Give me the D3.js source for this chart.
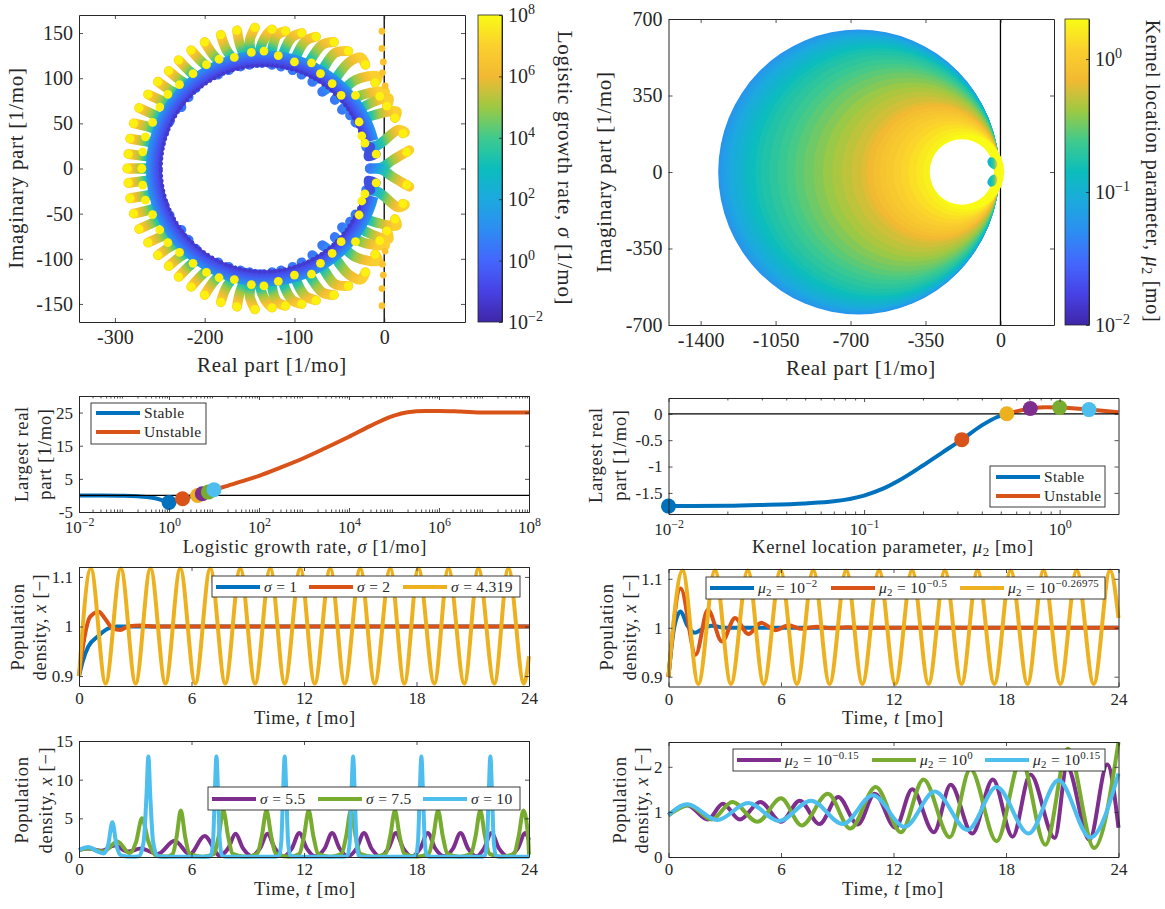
<!DOCTYPE html>
<html>
<head>
<meta charset="utf-8">
<script src="https://cdn.jsdelivr.net/npm/d3@7"></script>
<style>
html, body { margin: 0; padding: 0; background: #fff; }
svg { display: block; }
text { font-family: "Liberation Serif", serif; fill: #262626; }
</style>
</head>
<body>
<svg id="chart" width="1165" height="909"></svg>
<script>
'use strict';

//colorbar colours, bottom to top
var parulaColors = ['#3e26a8', '#4741e5', '#4466fd', '#2d8cf3', '#1ca9df', '#0bbdbc', '#3fca8e', '#9dc943', '#f2b932', '#fbd02e', '#f9fb15'];
var lineColors = ['#0072bd', '#d95319', '#edb120', '#7e2f8e', '#77ac30', '#4dbeee'];

//root locus tails, upper half only, ring to tip: [re, im]
var sigmaTails = [
    [[-253, 0], [-270, 0], [-286, 0]],
    [[-253, 12], [-270, 14], [-285, 16]],
    [[-250, 27], [-266, 30], [-283, 33]],
    [[-245, 40], [-262, 46], [-279, 50]],
    [[-239, 52], [-255, 59], [-273, 67]],
    [[-226, 68], [-245, 74], [-263, 82]],
    [[-218, 79], [-237, 86], [-252, 96]],
    [[-210, 89], [-226, 97], [-240, 108]],
    [[-204, 98], [-216, 107], [-229, 120]],
    [[-185, 104], [-202, 117], [-215, 131]],
    [[-173, 109], [-189, 124], [-200, 140]],
    [[-160, 113], [-175, 130], [-182, 148]],
    [[-150, 115], [-160, 135], [-164, 153]],
    [[-142, 117], [-150, 139], [-144, 156]],
    [[-136, 117], [-138, 131], [-131, 148], [-125, 154]],
    [[-125, 115], [-125, 131], [-119, 148], [-110, 152]],
    [[-115, 113], [-111, 131], [-102, 146], [-92, 150]],
    [[-102, 109], [-98, 124], [-88, 141], [-76, 146]],
    [[-92, 104], [-84, 117], [-69, 137], [-56, 140]],
    [[-80, 96], [-71, 106], [-55, 128], [-40, 130]],
    [[-69, 85], [-61, 91], [-40, 117], [-26, 123], [-21, 115]],
    [[-55, 76], [-32, 98], [-7, 102], [-10, 95]],
    [[-47, 65], [-26, 81], [1, 85], [-5, 80]],
    [[-38, 59], [-16, 72], [5, 78], [3, 69]],
    [[-32, 51], [-12, 59], [14, 63], [12, 56]],
    [[-20, 24], [-7, 26], [16, 43], [23, 40], [21, 39]],
    [[-16, 0], [-3, 1], [9, 9], [28, 20], [25, 18]]
];
var sigmaStub = [[-15, 24], [-18, 13], [-9, 16]];
var tailStopOffsets = [0, 0.22, 0.42, 0.6, 0.82, 1];
var tailStopLogSigma = [0.5, 2, 3.5, 5, 6.2, 7];

//yellow dots part way along the tails
var sigmaInnerDots = [[-270, 0], [-269, 18.5], [-266, 35], [-258, 51], [-250, 68], [-241, 82], [-228, 93], [-213, 105],
    [-198, 115], [-184, 121], [-167, 123], [-148, 128.5], [-134, 130], [-118, 125], [-100, 118], [-81, 117],
    [-71, 105], [-58, 94], [-48, 81], [-32, 81], [-28, 51.5], [-25, 36], [-21.5, 28], [-9, 16]];
//orange dots next to the imaginary axis
var sigmaAxisDots = [[-2.5, 152], [-2.5, 133], [-1, 118], [-2, 106], [1, 91.5]];
var ringCenterRe = -134;

//nested eigenvalue circles, outer to inner
var kernelLogMu = [-1.25, -1.22, -1.19, -1.17, -1.14, -1.11, -1.08, -1.06, -1.03, -1.00, -0.95, -0.90, -0.85, -0.80, -0.75, -0.70, -0.65, -0.60,
    -0.55, -0.50, -0.45, -0.40, -0.35, -0.30, -0.25, -0.20, -0.15, -0.10, -0.05, 0, 0.05, 0.10, 0.15, 0.20, 0.25, 0.30];
var kernelLeft = [-1318, -1312, -1305, -1297, -1288, -1278, -1268, -1257, -1246, -1234, -1215, -1193, -1170, -1146, -1118, -1080, -1040, -1000,
    -960, -918, -873, -829, -784, -740, -695, -650, -622, -594, -565, -535, -500, -465, -430, -395, -362, -331];
var kernelRight = [-7, -7, -7, -7, -6, -6, -6, -6, -5, -5, -5, -5, -4, -4, -4, -4, -3, -3,
    -3, -2, -2, -2, -1, -1, 0, 0, 1, 1, 2, 2, 3, 5, 7, 10, 13, 17];
var kernelHole = {left: -330, right: -30, top: 150};
var kernelBump = [[-28, 12], [-52, 26], [-61, 49], [-47, 67], [-28, 62], [-14, 35]];

//largest real part against sigma
var sigmaStable = [0.01, 0.03, 0.1, 0.2, 0.4, 0.7, 1, 1.4, 2, 3, 4.319];
var sigmaStableReal = [0, -0.02, -0.1, -0.25, -0.6, -1.4, -2.1, -1.7, -1, -0.3, 0];
var sigmaUnstable = [4.319, 5.5, 7.5, 10, 20, 50, 100, 300, 1e3, 3e3, 1e4, 3e4, 1e5, 2e5, 5e5, 1e6, 3e6, 1e7, 3e7, 1e8];
var sigmaUnstableReal = [0, 0.5, 1, 1.7, 2.9, 4.6, 5.9, 8.4, 11.3, 14.3, 17.7, 21, 24.1, 25.1, 25.5, 25.5, 25.3, 25, 25, 25];
var sigmaMarkers = [1, 2, 4.319, 5.5, 7.5, 10];
var sigmaMarkerReal = [-2.1, -1, 0, 0.5, 1, 1.7];

//largest real part against mu2
var muStable = [0.01, 0.02, 0.03, 0.05, 0.07, 0.1, 0.125, 0.15, 0.2, 0.25, 0.316, 0.4, 0.48, 0.537];
var muStableReal = [-1.75, -1.745, -1.73, -1.7, -1.66, -1.55, -1.42, -1.27, -0.98, -0.74, -0.49, -0.22, -0.06, 0];
var muUnstable = [0.537, 0.708, 0.85, 1, 1.413, 2];
var muUnstableReal = [0, 0.1, 0.125, 0.12, 0.08, 0.03];
var muMarkers = [0.01, 0.316, 0.537, 0.708, 1, 1.413];
var muMarkerReal = [-1.75, -0.49, 0, 0.1, 0.12, 0.08];

//population density, left column, sigma = 1, 2, 4.319
var sigma1Time = [0, 0.2, 0.5, 1, 1.5, 2, 3, 24];
var sigma1Density = [0.9, 0.93, 0.96, 0.98, 0.995, 1, 1, 1];
var sigma2Time = [0, 0.3, 0.6, 1.05, 1.4, 1.8, 2.2, 2.6, 3.3, 4, 24];
var sigma2Density = [0.9, 0.98, 1.02, 1.03, 1.015, 0.996, 0.993, 1, 1.002, 1, 1];
var sigma432Time = [0, 0.63, 1.42, 2.23, 3.02, 3.81, 4.61, 5.4, 6.2, 7, 7.8, 8.6, 9.39, 10.2, 10.97, 11.8, 12.57, 13.4, 14.17, 15,
    15.77, 16.6, 17.35, 18.1, 18.95, 19.7, 20.55, 21.3, 22.15, 22.9, 23.73, 24];
var sigma432Density = [0.9, 1.117, 0.885, 1.117, 0.885, 1.117, 0.885, 1.117, 0.885, 1.117, 0.885, 1.117, 0.885, 1.117, 0.885, 1.117, 0.885, 1.117, 0.885, 1.117,
    0.885, 1.117, 0.885, 1.117, 0.885, 1.117, 0.885, 1.117, 0.885, 1.117, 0.885, 0.94];

//population density, right column, mu2 = 10^-2, 10^-0.5, 10^-0.26975
var mu200Time = [0, 0.3, 0.65, 1, 1.4, 1.9, 2.3, 3, 4, 24];
var mu200Density = [0.9, 1, 1.033, 1.005, 0.99, 1, 1.004, 1, 1, 1];
var mu050Time = [0, 0.65, 1.45, 2.1, 2.85, 3.55, 4.25, 4.95, 5.7, 6.4, 7.1, 7.9, 8.7, 9.5, 10.2, 24];
var mu050Density = [0.9, 1.08, 0.945, 1.037, 0.972, 1.02, 0.987, 1.01, 0.995, 1.005, 0.998, 1.002, 0.999, 1.001, 1, 1];
var mu027Time = [0, 0.75, 1.59, 2.48, 3.33, 4.23, 5.08, 5.97, 6.85, 7.72, 8.59, 9.48, 10.34, 11.23, 12.1, 12.99, 13.87, 14.74, 15.63, 16.48,
    17.38, 18.25, 19.15, 20, 20.9, 21.77, 22.68, 23.55, 24];
var mu027Density = [0.9, 1.117, 0.885, 1.117, 0.885, 1.117, 0.885, 1.117, 0.885, 1.117, 0.885, 1.117, 0.885, 1.117, 0.885, 1.117, 0.885, 1.117, 0.885, 1.117,
    0.885, 1.117, 0.885, 1.117, 0.885, 1.117, 0.885, 1.117, 1.02];

//population density, left column, sigma = 5.5, 7.5, 10
var sigma55Time = [0, 0.5, 1.2, 1.9, 2.6, 3.3, 4.2, 5.1, 5.9, 6.7, 7.5, 7.95, 8.35, 8.75, 9.2, 9.65, 10.05, 10.45, 10.9, 11.35, 11.75, 12.15, 12.6, 13.1, 13.5, 13.9,
    14.35, 14.8, 15.2, 15.6, 16.05, 16.5, 16.9, 17.3, 17.75, 18.2, 18.6, 19, 19.5, 19.95, 20.35, 20.75, 21.2, 21.6, 22, 22.4, 22.9, 23.4, 23.8, 24];
var sigma55Density = [0.9, 1.1, 0.8, 1.5, 0.7, 1.1, 0.4, 2.1, 0.35, 2.7, 0.2, 1.1, 3, 1.1, 0.12, 1.1, 3, 1.1, 0.1, 1.1, 3.1, 1.1, 0.1, 1.1, 3.1, 1.1,
    0.1, 1.1, 3.1, 1.1, 0.1, 1.1, 3.1, 1.1, 0.1, 1.1, 3.1, 1.1, 0.1, 1.1, 3.1, 1.1, 0.1, 1.1, 3.1, 1.1, 0.1, 1.1, 3.1, 2.2];
var sigma75Time = [0, 0.5, 1.3, 2.05, 2.7, 3.05, 3.36, 3.7, 4.1, 4.7, 5, 5.2, 5.43, 5.67, 5.9, 6.6, 7.2, 7.45, 7.7, 7.95, 8.2, 8.9, 9.5, 9.75, 10, 10.25, 10.5, 11.2,
    11.75, 12, 12.25, 12.5, 12.75, 13.4, 14, 14.25, 14.5, 14.75, 15, 15.7, 16.35, 16.6, 16.85, 17.1, 17.35, 18, 18.65, 18.9, 19.15, 19.4, 19.65, 20.3,
    20.9, 21.15, 21.4, 21.65, 21.9, 22.5, 23.2, 23.45, 23.7, 23.95, 24];
var sigma75Density = [0.9, 1.1, 0.7, 2, 0.5, 2, 5, 2, 0.2, 0.05, 0.4, 2.5, 6, 2.5, 0.4, 0.03, 0.4, 2.7, 6, 2.7, 0.4, 0.03, 0.4, 2.7, 6, 2.7, 0.4, 0.03,
    0.4, 2.7, 6, 2.7, 0.4, 0.03, 0.4, 2.7, 6, 2.7, 0.4, 0.03, 0.4, 2.7, 6, 2.7, 0.4, 0.03, 0.4, 2.7, 6, 2.7, 0.4, 0.03,
    0.4, 2.7, 6, 2.7, 0.4, 0.03, 0.4, 2.7, 6, 2.7, 0.3];
var sigma10Time = [0, 0.5, 1, 1.3, 1.55, 1.78, 2, 2.25, 2.8, 3.2, 3.45, 3.6, 3.7, 3.8, 3.95, 4.2, 4.8,
    6.8, 7.03, 7.15, 7.24, 7.33, 7.42, 7.51, 7.63, 7.9,
    10.4, 10.67, 10.79, 10.88, 10.97, 11.06, 11.15, 11.27, 11.5,
    14.05, 14.32, 14.44, 14.53, 14.62, 14.71, 14.8, 14.92, 15.2,
    17.7, 17.96, 18.08, 18.17, 18.26, 18.35, 18.44, 18.56, 18.8,
    21.4, 21.64, 21.76, 21.85, 21.94, 22.03, 22.12, 22.24, 22.5, 24];
var sigma10Density = [0.9, 1.3, 0.7, 0.45, 1.5, 4.5, 1.5, 0.2, 0.03, 0.1, 2, 8, 13, 8, 2, 0.1, 0.02,
    0.02, 0.15, 2, 8, 13, 8, 2, 0.15, 0.02,
    0.02, 0.15, 2, 8, 13, 8, 2, 0.15, 0.02,
    0.02, 0.15, 2, 8, 13, 8, 2, 0.15, 0.02,
    0.02, 0.15, 2, 8, 13, 8, 2, 0.15, 0.02,
    0.02, 0.15, 2, 8, 13, 8, 2, 0.15, 0.02, 0.02];

//population density, right column, mu2 = 10^-0.15, 10^0, 10^0.15
var mu015Time = [0, 1, 2.1, 2.9, 3.8, 4.9, 6, 7, 8.05, 9.05, 10.1, 11, 12.1, 13, 14.15, 15.05, 16.2, 17.3, 18.35, 19.3, 20.6, 21.25, 22.45, 23.4, 24];
var mu015Density = [0.93, 1.15, 0.83, 1.18, 0.83, 1.22, 0.78, 1.25, 0.73, 1.33, 0.72, 1.4, 0.65, 1.5, 0.55, 1.6, 0.52, 1.72, 0.45, 1.83, 0.42, 2, 0.38, 2.05, 0.65];
var mu100Time = [0, 1.1, 2.3, 3.4, 4.75, 6, 7.1, 8.5, 9.7, 11.05, 12.4, 13.6, 15, 16.1, 17.5, 18.8, 20.1, 21.3, 22.7, 24];
var mu100Density = [0.93, 1.15, 0.83, 1.22, 0.78, 1.3, 0.7, 1.4, 0.63, 1.55, 0.55, 1.72, 0.44, 1.95, 0.35, 2.15, 0.27, 2.4, 0.2, 2.55];
var mu141Time = [0, 1, 2.6, 4.25, 5.9, 7.6, 9.3, 10.9, 12.6, 14.2, 15.95, 17.5, 19.2, 20.8, 22.5, 24];
var mu141Density = [0.93, 1.17, 0.82, 1.2, 0.8, 1.25, 0.73, 1.37, 0.67, 1.45, 0.6, 1.55, 0.52, 1.7, 0.43, 1.85];

//tick labels and legend labels
var timeTicks = [0, 6, 12, 18, 24];
var sigmaLogTicks = [1e-2, 1, 1e2, 1e4, 1e6, 1e8];
var muLogTicks = [1e-2, 1e-1, 1];
var sigmaBarTicks = [1e-2, 1, 1e2, 1e4, 1e6, 1e8];
var stabilityLabels = ['Stable', 'Unstable'];
var legendSigmaA = [[['σ', 'i'], [' = 1']], [['σ', 'i'], [' = 2']], [['σ', 'i'], [' = 4.319']]];
var legendSigmaB = [[['σ', 'i'], [' = 5.5']], [['σ', 'i'], [' = 7.5']], [['σ', 'i'], [' = 10']]];
var legendMuA = [
    [['μ', 'i'], ['2', 'sub'], [' = 10'], ['−2', 'sup']],
    [['μ', 'i'], ['2', 'sub'], [' = 10'], ['−0.5', 'sup']],
    [['μ', 'i'], ['2', 'sub'], [' = 10'], ['−0.26975', 'sup']]
];
var legendMuB = [
    [['μ', 'i'], ['2', 'sub'], [' = 10'], ['−0.15', 'sup']],
    [['μ', 'i'], ['2', 'sub'], [' = 10'], ['0', 'sup']],
    [['μ', 'i'], ['2', 'sub'], [' = 10'], ['0.15', 'sup']]
];

var svg = d3.select('#chart');
var defs = svg.append('defs');
var parula = d3.scaleLinear()
    .domain(d3.range(parulaColors.length).map(function (i) { return i / (parulaColors.length - 1); }))
    .range(parulaColors)
    .interpolate(d3.interpolateRgb);
var inkColor = '#262626';
var lineWidth = 4;
var gradCount = 0;

//text with italic, super and subscript runs
function richText(sel, parts, size) {
    sel.attr('font-size', size);
    parts.forEach(function (part) {
        var span = sel.append('tspan').text(part[0]);
        if (part[1] === 'i') {
            span.attr('font-style', 'italic');
        } else if (part[1] === 'sup') {
            span.attr('font-size', size * 0.7).attr('baseline-shift', size * 0.42);
        } else if (part[1] === 'sub') {
            span.attr('font-size', size * 0.7).attr('font-style', 'normal').attr('baseline-shift', -size * 0.18);
        }
    });
    return sel;
}

function powerLabel(v) {
    var exponent = Math.round(Math.log10(v));
    return [['10'], [exponent < 0 ? '−' + (-exponent) : String(exponent), 'sup']];
}

function minorLogTicks(lo, hi) {
    var out = [];
    for (var e = Math.floor(Math.log10(lo)); e <= Math.ceil(Math.log10(hi)); e++) {
        for (var m = 2; m < 10; m++) {
            var v = m * Math.pow(10, e);
            if (v > lo && v < hi) { out.push(v); }
        }
    }
    return out;
}

function styleAxis(g) {
    g.selectAll('.domain').attr('stroke', inkColor).attr('stroke-width', 1);
    g.selectAll('.tick line').attr('stroke', inkColor).attr('stroke-width', 0.8);
    g.attr('font-family', null).attr('font-size', null);
}

//box with inward ticks on all four sides
function drawFrame(panel) {
    var x = panel.x, y = panel.y, fs = panel.fontSize;
    var xr = x.range(), yr = y.range();
    var g = svg.append('g');
    var bottom = d3.axisBottom(x).tickValues(panel.xTicks).tickSizeInner(-4).tickSizeOuter(0).tickPadding(panel.xPad).tickFormat(String);
    var top = d3.axisTop(x).tickValues(panel.xTicks).tickSizeInner(-4).tickSizeOuter(0).tickFormat('');
    var left = d3.axisLeft(y).tickValues(panel.yTicks).tickSizeInner(-4).tickSizeOuter(0).tickPadding(6).tickFormat(String);
    var right = d3.axisRight(y).tickValues(panel.yTicks).tickSizeInner(-4).tickSizeOuter(0).tickFormat('');

    var gb = g.append('g').attr('transform', 'translate(0,' + yr[0] + ')').call(bottom);
    var gt = g.append('g').attr('transform', 'translate(0,' + yr[1] + ')').call(top);
    var gl = g.append('g').attr('transform', 'translate(' + xr[0] + ',0)').call(left);
    var gr = g.append('g').attr('transform', 'translate(' + xr[1] + ',0)').call(right);

    if (panel.logX) {
        gb.selectAll('.tick text').each(function (d) {
            var t = d3.select(this);
            t.text('');
            richText(t, powerLabel(d), fs);
        });
        var minor = minorLogTicks(x.domain()[0], x.domain()[1]);
        g.append('g').attr('transform', 'translate(0,' + yr[0] + ')')
            .call(d3.axisBottom(x).tickValues(minor).tickSizeInner(-2.5).tickSizeOuter(0).tickFormat(''))
            .call(styleAxis);
        g.append('g').attr('transform', 'translate(0,' + yr[1] + ')')
            .call(d3.axisTop(x).tickValues(minor).tickSizeInner(-2.5).tickSizeOuter(0).tickFormat(''))
            .call(styleAxis);
    }
    [gb, gt, gl, gr].forEach(styleAxis);
    g.selectAll('.tick text').attr('font-size', fs).attr('fill', inkColor);
    return g;
}

function xLabel(cx, baseline, parts, size) {
    svg.append('text').attr('x', cx).attr('y', baseline).attr('text-anchor', 'middle')
        .attr('letter-spacing', 0.7)
        .call(richText, parts, size);
}

function rotatedLabel(x, cy, parts, size, angle) {
    svg.append('text').attr('text-anchor', 'middle')
        .attr('letter-spacing', 0.7)
        .attr('transform', 'translate(' + x + ',' + cy + ') rotate(' + angle + ')')
        .call(richText, parts, size);
}

function drawSeries(panel, xs, ys, color) {
    var line = d3.line()
        .x(function (d) { return panel.x(d[0]); })
        .y(function (d) { return panel.y(d[1]); })
        .curve(d3.curveMonotoneX);
    svg.append('path')
        .datum(d3.zip(xs, ys))
        .attr('d', line)
        .attr('fill', 'none')
        .attr('stroke', color)
        .attr('stroke-width', lineWidth)
        .attr('stroke-linejoin', 'round');
}

function drawMarkers(panel, xs, ys, colors) {
    svg.append('g').selectAll('circle').data(d3.zip(xs, ys)).enter().append('circle')
        .attr('cx', function (d) { return panel.x(d[0]); })
        .attr('cy', function (d) { return panel.y(d[1]); })
        .attr('r', 7.5)
        .attr('fill', function (d, i) { return colors[i]; });
}

function drawZeroLine(panel, horizontal) {
    var xr = panel.x.range(), yr = panel.y.range();
    svg.append('line')
        .attr('x1', horizontal ? xr[0] : panel.x(0))
        .attr('x2', horizontal ? xr[1] : panel.x(0))
        .attr('y1', horizontal ? panel.y(0) : yr[0])
        .attr('y2', horizontal ? panel.y(0) : yr[1])
        .attr('stroke', '#000')
        .attr('stroke-width', 1.3);
}

//legend: one row of entries, or stacked rows when rowY has several values
function drawLegend(opts) {
    var g = svg.append('g');
    g.append('rect')
        .attr('x', opts.x).attr('y', opts.y).attr('width', opts.w).attr('height', opts.h)
        .attr('fill', '#fff').attr('stroke', inkColor).attr('stroke-width', 0.9);
    opts.labels.forEach(function (label, i) {
        var rowY = opts.rowY[Math.min(i, opts.rowY.length - 1)];
        var lineX = opts.lineX[Math.min(i, opts.lineX.length - 1)];
        g.append('line')
            .attr('x1', lineX).attr('x2', lineX + opts.lineLen)
            .attr('y1', rowY).attr('y2', rowY)
            .attr('stroke', opts.colors[i]).attr('stroke-width', lineWidth);
        g.append('text')
            .attr('x', lineX + opts.lineLen + 4).attr('y', rowY + opts.fontSize * 0.33)
            .attr('letter-spacing', 0.3)
            .call(richText, typeof label === 'string' ? [[label]] : label, opts.fontSize);
    });
}

//colorbar with its own log axis
function drawColorbar(x0, x1, y0, y1, scale, ticks, fs) {
    var id = 'bar' + (gradCount++);
    var grad = defs.append('linearGradient').attr('id', id)
        .attr('x1', 0).attr('y1', 1).attr('x2', 0).attr('y2', 0);
    d3.range(0, 1.0001, 0.05).forEach(function (t) {
        grad.append('stop').attr('offset', t).attr('stop-color', parula(t));
    });
    svg.append('rect')
        .attr('x', x0).attr('y', y0).attr('width', x1 - x0).attr('height', y1 - y0)
        .attr('fill', 'url(#' + id + ')')
        .attr('stroke', inkColor).attr('stroke-width', 0.8);
    var g = svg.append('g').attr('transform', 'translate(' + x1 + ',0)')
        .call(d3.axisRight(scale).tickValues(ticks).tickSizeInner(-3).tickSizeOuter(0).tickPadding(6));
    g.selectAll('.tick text').each(function (d) {
        var t = d3.select(this);
        t.text('');
        richText(t, powerLabel(d), fs);
    });
    styleAxis(g);
}

//first panel: tails of the spectrum, coloured by sigma
function drawSigmaLocus() {
    var x = d3.scaleLinear().domain([-340, 90]).range([79, 465]);
    var y = d3.scaleLinear().domain([-170, 170]).range([322, 15]);
    var panel = {x: x, y: y, xTicks: [-300, -200, -100, 0], yTicks: [-150, -100, -50, 0, 50, 100, 150], xPad: 8, fontSize: 20};

    var sigmaColor = function (logSigma) { return parula((logSigma + 2) / 10); };
    drawZeroLine(panel, false);

    var mirrored = sigmaTails.map(function (t) {
        return t.map(function (p) { return [p[0], -p[1]]; });
    });
    var allTails = sigmaTails.concat(mirrored);
    var line = d3.line()
        .x(function (d) { return x(d[0]); })
        .y(function (d) { return y(d[1]); })
        .curve(d3.curveCatmullRom);

    allTails.forEach(function (tail) {
        var first = tail[0], last = tail[tail.length - 1];
        var id = 'tail' + (gradCount++);
        var grad = defs.append('linearGradient').attr('id', id)
            .attr('gradientUnits', 'userSpaceOnUse')
            .attr('x1', x(first[0])).attr('y1', y(first[1]))
            .attr('x2', x(last[0])).attr('y2', y(last[1]));
        tailStopOffsets.forEach(function (off, i) {
            grad.append('stop').attr('offset', off).attr('stop-color', sigmaColor(tailStopLogSigma[i]));
        });
        svg.append('path')
            .attr('d', line(tail))
            .attr('fill', 'none')
            .attr('stroke', 'url(#' + id + ')')
            .attr('stroke-width', 10)
            .attr('stroke-linecap', 'round')
            .attr('stroke-linejoin', 'round');
    });

    //dense ring of low sigma eigenvalues, over the tail bases
    var ringG = svg.append('g').attr('transform', 'translate(' + x(ringCenterRe) + ',' + y(0) + ')');
    var ringGrad = defs.append('radialGradient').attr('id', 'ringGrad')
        .attr('gradientUnits', 'userSpaceOnUse').attr('cx', 0).attr('cy', 0).attr('r', 120);
    [[0.85, '#4338d0'], [0.9, '#4455f0'], [0.95, '#2f80f5'], [1, '#1ca9df']].forEach(function (s) {
        ringGrad.append('stop').attr('offset', s[0]).attr('stop-color', s[1]);
    });
    var ringArc = d3.arc().innerRadius(102).outerRadius(118);
    ringG.append('path').attr('fill', 'url(#ringGrad)')
        .attr('d', ringArc({startAngle: Math.PI / 2 + 0.25, endAngle: Math.PI * 2.5 - 0.25}));
    ringG.append('path').attr('fill', 'none').attr('stroke', '#4338d0').attr('stroke-width', 4)
        .attr('stroke-linecap', 'round').attr('stroke-dasharray', '0 5')
        .attr('d', d3.arc().innerRadius(103).outerRadius(103)({startAngle: Math.PI / 2 + 0.25, endAngle: Math.PI * 1.5}));
    ringG.append('path').attr('fill', 'none').attr('stroke', '#4338d0').attr('stroke-width', 4)
        .attr('stroke-linecap', 'round').attr('stroke-dasharray', '0 5')
        .attr('d', d3.arc().innerRadius(103).outerRadius(103)({startAngle: Math.PI * 1.5, endAngle: Math.PI * 2.5 - 0.25}));

    //short dark stubs near the origin
    [1, -1].forEach(function (sign) {
        svg.append('path')
            .attr('d', line(sigmaStub.map(function (p) { return [p[0], sign * p[1]]; })))
            .attr('fill', 'none').attr('stroke', '#3f50e0').attr('stroke-width', 9)
            .attr('stroke-linecap', 'round');
    });

    //dots on top
    var tips = sigmaTails.map(function (t) { return t[t.length - 1]; });
    var yellowDots = tips.concat(sigmaInnerDots);
    yellowDots = yellowDots.concat(yellowDots.map(function (p) { return [p[0], -p[1]]; }));
    svg.append('g').selectAll('circle').data(yellowDots).enter().append('circle')
        .attr('cx', function (d) { return x(d[0]); })
        .attr('cy', function (d) { return y(d[1]); })
        .attr('r', 4.4)
        .attr('fill', '#fbf00e');
    var axisDots = sigmaAxisDots.concat(sigmaAxisDots.map(function (p) { return [p[0], -p[1]]; }));
    svg.append('g').selectAll('circle').data(axisDots).enter().append('circle')
        .attr('cx', function (d) { return x(d[0]); })
        .attr('cy', function (d) { return y(d[1]); })
        .attr('r', 3.4)
        .attr('fill', '#fcc22e');

    drawFrame(panel);
    xLabel(272, 372, [['Real part [1/mo]']], 21);
    rotatedLabel(23, 168, [['Imaginary part [1/mo]']], 21, -90);
    var bar = d3.scaleLog().domain([1e-2, 1e8]).range([322, 15]);
    drawColorbar(478, 502, 15, 322, bar, sigmaBarTicks, 20);
    rotatedLabel(558, 168, [['Logistic growth rate, '], ['σ', 'i'], [' [1/mo]']], 21, 90);
}

//second panel: nested circles, coloured by mu2
function drawMuLocus() {
    var x = d3.scaleLinear().domain([-1550, 250]).range([668.5, 1054]);
    var y = d3.scaleLinear().domain([-700, 700]).range([325, 19]);
    var panel = {x: x, y: y, xTicks: [-1400, -1050, -700, -350, 0], yTicks: [-700, -350, 0, 350, 700], xPad: 8, fontSize: 20};
    var muColor = function (logMu) { return parula((logMu + 2) / (2 + Math.log10(2))); };

    drawZeroLine(panel, false);

    svg.append('g').selectAll('ellipse').data(d3.range(kernelLogMu.length)).enter().append('ellipse')
        .attr('cx', function (i) { return x((kernelLeft[i] + kernelRight[i]) / 2); })
        .attr('cy', y(0))
        .attr('rx', function (i) { return (x(kernelRight[i]) - x(kernelLeft[i])) / 2; })
        .attr('ry', function (i) { return (y(0) - y((kernelRight[i] - kernelLeft[i]) / 2)) * 0.994; })
        .attr('fill', function (i) { return muColor(kernelLogMu[i]); });

    //white hole in the middle
    svg.append('ellipse')
        .attr('cx', x((kernelHole.left + kernelHole.right) / 2))
        .attr('cy', y(0))
        .attr('rx', (x(kernelHole.right) - x(kernelHole.left)) / 2)
        .attr('ry', y(0) - y(kernelHole.top))
        .attr('fill', '#fff');

    //two small bumps inside the hole
    var bumpGrad = defs.append('linearGradient').attr('id', 'bumpGrad')
        .attr('gradientUnits', 'userSpaceOnUse')
        .attr('x1', x(-61)).attr('y1', 0).attr('x2', x(-14)).attr('y2', 0);
    [[0, '#1ca9df'], [0.3, '#0bbdbc'], [0.65, '#3fca8e'], [1, '#fccf2e']].forEach(function (s) {
        bumpGrad.append('stop').attr('offset', s[0]).attr('stop-color', s[1]);
    });
    var bumpLine = d3.line()
        .x(function (d) { return x(d[0]); })
        .y(function (d) { return y(d[1]); })
        .curve(d3.curveCatmullRomClosed);
    [1, -1].forEach(function (sign) {
        svg.append('path')
            .attr('d', bumpLine(kernelBump.map(function (p) { return [p[0], sign * p[1]]; })))
            .attr('fill', 'url(#bumpGrad)');
    });

    drawFrame(panel);
    xLabel(861, 375, [['Real part [1/mo]']], 21);
    rotatedLabel(611, 172, [['Imaginary part [1/mo]']], 21, -90);
    var bar = d3.scaleLog().domain([1e-2, 2]).range([325, 19]);
    drawColorbar(1065, 1089, 19, 325, bar, muLogTicks, 20);
    rotatedLabel(1146, 171, [['Kernel location parameter, '], ['μ', 'i'], ['2', 'sub'], [' [mo]']], 20, 90);
}

function twoLineLabel(x1, x2, cy, first, second, size) {
    rotatedLabel(x1, cy, first, size, -90);
    rotatedLabel(x2, cy, second, size, -90);
}

function drawSigmaStability() {
    var panel = {
        x: d3.scaleLog().domain([1e-2, 1e8]).range([79, 529]),
        y: d3.scaleLinear().domain([-5, 30]).range([512, 396]),
        xTicks: sigmaLogTicks, yTicks: [-5, 5, 15, 25], xPad: 9, fontSize: 17, logX: true
    };
    drawSeries(panel, sigmaStable, sigmaStableReal, lineColors[0]);
    drawSeries(panel, sigmaUnstable, sigmaUnstableReal, lineColors[1]);
    drawZeroLine(panel, true);
    drawMarkers(panel, sigmaMarkers, sigmaMarkerReal, lineColors);
    drawFrame(panel);
    drawLegend({x: 91, y: 403, w: 115, h: 41, labels: stabilityLabels, colors: lineColors, rowY: [413, 432], lineX: [96], lineLen: 44, fontSize: 15.5});
    xLabel(305, 553, [['Logistic growth rate, '], ['σ', 'i'], [' [1/mo]']], 18.5);
    twoLineLabel(28, 51, 454, [['Largest real']], [['part [1/mo]']], 18.5);
}

function drawMuStability() {
    var panel = {
        x: d3.scaleLog().domain([1e-2, 2]).range([668.5, 1118.5]),
        y: d3.scaleLinear().domain([-1.9, 0.3]).range([514, 398]),
        xTicks: muLogTicks, yTicks: [-1.5, -1, -0.5, 0], xPad: 9, fontSize: 17, logX: true
    };
    drawSeries(panel, muStable, muStableReal, lineColors[0]);
    drawSeries(panel, muUnstable, muUnstableReal, lineColors[1]);
    drawZeroLine(panel, true);
    drawMarkers(panel, muMarkers, muMarkerReal, lineColors);
    drawFrame(panel);
    drawLegend({x: 990, y: 466, w: 115, h: 41, labels: stabilityLabels, colors: lineColors, rowY: [477, 496], lineX: [996], lineLen: 44, fontSize: 15.5});
    xLabel(893, 553, [['Kernel location parameter, '], ['μ', 'i'], ['2', 'sub'], [' [mo]']], 18.5);
    twoLineLabel(602, 626, 455, [['Largest real']], [['part [1/mo]']], 18.5);
}

var densityLine1 = [['Population']];
var densityLine2 = [['density, '], ['x', 'i'], [' [−]']];
var timeLabel = [['Time, '], ['t', 'i'], [' [mo]']];

function timePanel(xRange, yDomain, yRange, yTicks) {
    return {
        x: d3.scaleLinear().domain([0, 24]).range(xRange),
        y: d3.scaleLinear().domain(yDomain).range(yRange),
        xTicks: timeTicks, yTicks: yTicks, xPad: 6, fontSize: 17
    };
}

function drawDensityPanels() {
    //row three, left
    var p = timePanel([79, 529], [0.88, 1.12], [686, 567], [0.9, 1, 1.1]);
    drawSeries(p, sigma1Time, sigma1Density, lineColors[0]);
    drawSeries(p, sigma2Time, sigma2Density, lineColors[1]);
    drawSeries(p, sigma432Time, sigma432Density, lineColors[2]);
    drawFrame(p);
    drawLegend({x: 212, y: 576, w: 308, h: 21, labels: legendSigmaA, colors: lineColors, rowY: [587], lineX: [216, 309, 403], lineLen: 44, fontSize: 15.5});
    xLabel(305, 724, timeLabel, 18.5);
    twoLineLabel(24, 46, 627, densityLine1, densityLine2, 18.5);

    //row three, right
    p = timePanel([668.5, 1118.5], [0.88, 1.12], [686.5, 569], [0.9, 1, 1.1]);
    drawSeries(p, mu200Time, mu200Density, lineColors[0]);
    drawSeries(p, mu050Time, mu050Density, lineColors[1]);
    drawSeries(p, mu027Time, mu027Density, lineColors[2]);
    drawFrame(p);
    drawLegend({x: 706, y: 577, w: 399, h: 22, labels: legendMuA, colors: lineColors, rowY: [588], lineX: [710, 831, 960], lineLen: 44, fontSize: 15.5});
    xLabel(893, 724, timeLabel, 18.5);
    twoLineLabel(613, 636, 627, densityLine1, densityLine2, 18.5);

    //row four, left
    p = timePanel([79, 529], [0, 15], [857, 741], [0, 5, 10, 15]);
    drawSeries(p, sigma55Time, sigma55Density, lineColors[3]);
    drawSeries(p, sigma75Time, sigma75Density, lineColors[4]);
    drawSeries(p, sigma10Time, sigma10Density, lineColors[5]);
    drawFrame(p);
    drawLegend({x: 208, y: 787, w: 312, h: 23, labels: legendSigmaB, colors: lineColors.slice(3), rowY: [799], lineX: [212, 318, 423], lineLen: 44, fontSize: 15.5});
    xLabel(305, 895, timeLabel, 18.5);
    twoLineLabel(28, 52, 800, densityLine1, densityLine2, 18.5);

    //row four, right
    p = timePanel([668.5, 1118.5], [0, 2.55], [857, 742], [0, 1, 2]);
    drawSeries(p, mu015Time, mu015Density, lineColors[3]);
    drawSeries(p, mu100Time, mu100Density, lineColors[4]);
    drawSeries(p, mu141Time, mu141Density, lineColors[5]);
    drawFrame(p);
    drawLegend({x: 733, y: 749, w: 372, h: 22, labels: legendMuB, colors: lineColors.slice(3), rowY: [760], lineX: [737, 872, 985], lineLen: 44, fontSize: 15.5});
    xLabel(893, 895, timeLabel, 18.5);
    twoLineLabel(626, 648, 800, densityLine1, densityLine2, 18.5);
}

drawSigmaLocus();
drawMuLocus();
drawSigmaStability();
drawMuStability();
drawDensityPanels();
</script>
</body>
</html>
